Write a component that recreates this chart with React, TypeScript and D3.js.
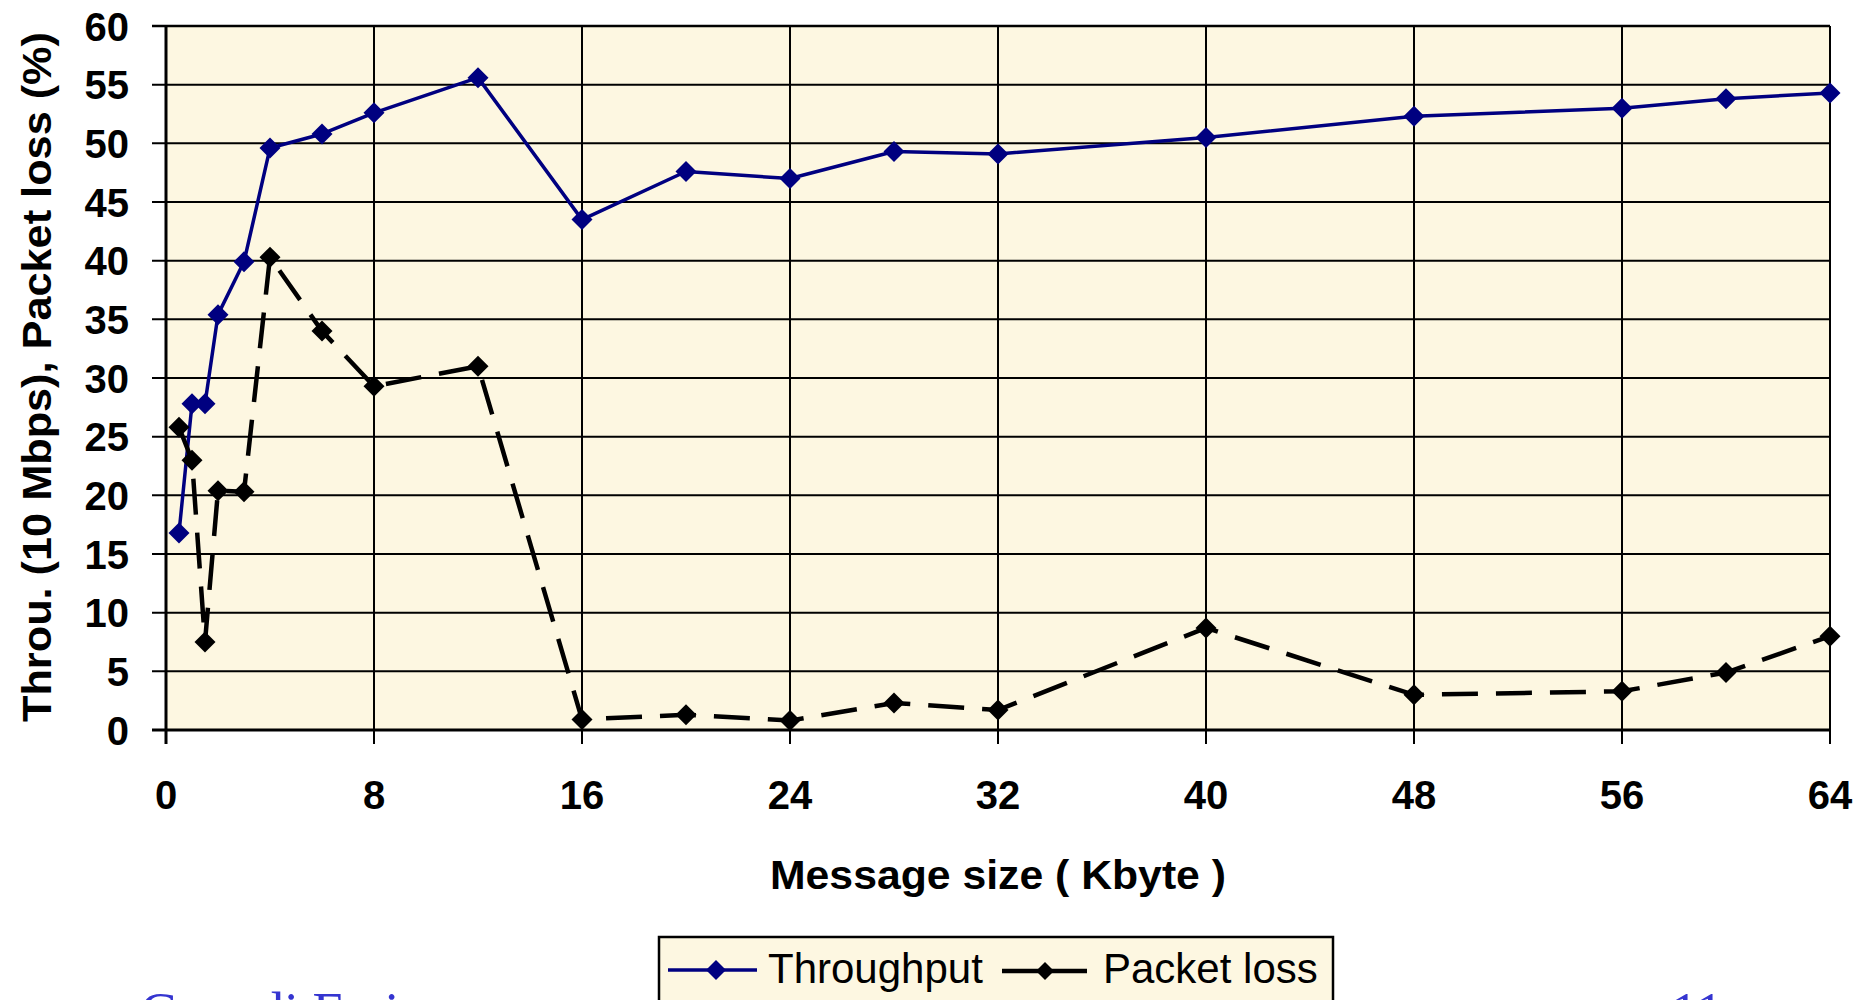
import React from 'react';
import * as d3 from 'd3';

const messageSizes = [0.5, 1, 1.5, 2, 3, 4, 6, 8, 12, 16, 20, 24, 28, 32, 40, 48, 56, 60, 64];
const throughput = [16.8, 27.8, 27.8, 35.4, 39.9, 49.6, 50.8, 52.6, 55.6, 43.5, 47.6, 47.0, 49.3, 49.1, 50.5, 52.3, 53.0, 53.8, 54.3];
const packetLoss = [25.8, 23.0, 7.5, 20.4, 20.3, 40.3, 34.0, 29.3, 31.0, 0.9, 1.3, 0.8, 2.3, 1.7, 8.7, 3.0, 3.3, 4.9, 8.0];
const xTicks = [0, 8, 16, 24, 32, 40, 48, 56, 64];
const yTicks = [0, 5, 10, 15, 20, 25, 30, 35, 40, 45, 50, 55, 60];
const seriesNames = ['Throughput', 'Packet loss'];
const xTitle = 'Message size ( Kbyte )';
const yTitle = 'Throu. (10 Mbps), Packet loss (%)';
const footerLeft = 'Gunadi Farin';
const footerRight = '11';

const W = 1872;
const H = 1000;
const L = 166, R = 1830, T = 26, B = 730;
const BG = '#FDF7E1';
const NAVY = '#000080';
const SANS = '"Liberation Sans", Arial, sans-serif';

const diamond = (r: number) => `M0,${-r}L${r},0L0,${r}L${-r},0Z`;

export default function App() {
  const x = d3.scaleLinear().domain([0, 64]).range([L, R]);
  const y = d3.scaleLinear().domain([0, 60]).range([B, T]);
  const tpData = messageSizes.map((m, i) => [m, throughput[i]] as [number, number]);
  const plData = messageSizes.map((m, i) => [m, packetLoss[i]] as [number, number]);
  const line = d3.line<[number, number]>().x(d => x(d[0])).y(d => y(d[1]));

  return (
    <svg width={W} height={H} style={{ position: 'absolute', left: 0, top: 0, background: '#fff' }}>
      <rect x={L} y={T} width={R - L} height={B - T} fill={BG} />
      {yTicks.map(t => (
        <g key={'y' + t}>
          <line x1={L - 14} x2={R} y1={y(t)} y2={y(t)} stroke="#000" strokeWidth={2} />
          <text x={129} y={y(t) + 14.5} textAnchor="end" fontFamily={SANS} fontWeight="bold" fontSize={40}>{t}</text>
        </g>
      ))}
      {xTicks.map(t => (
        <g key={'x' + t}>
          <line x1={x(t)} x2={x(t)} y1={T} y2={B + 14} stroke="#000" strokeWidth={2} />
          <text x={x(t)} y={809} textAnchor="middle" fontFamily={SANS} fontWeight="bold" fontSize={40}>{t}</text>
        </g>
      ))}
      <line x1={L} x2={L} y1={T} y2={B + 14} stroke="#000" strokeWidth={3} />
      <line x1={L - 14} x2={R} y1={B} y2={B} stroke="#000" strokeWidth={3} />
      <line x1={L - 14} x2={R} y1={T} y2={T} stroke="#000" strokeWidth={2.5} />

      <path d={line(tpData) || ''} fill="none" stroke={NAVY} strokeWidth={3.5} strokeLinejoin="round" />
      {tpData.map((d, i) => (
        <path key={'tp' + i} d={diamond(10.5)} transform={`translate(${x(d[0])},${y(d[1])})`} fill={NAVY} />
      ))}
      <path d={line(plData) || ''} fill="none" stroke="#000" strokeWidth={4.5} strokeDasharray="36 18" />
      {plData.map((d, i) => (
        <path key={'pl' + i} d={diamond(10.5)} transform={`translate(${x(d[0])},${y(d[1])})`} fill="#000" />
      ))}

      <text x={(L + R) / 2} y={889} textAnchor="middle" fontFamily={SANS} fontWeight="bold" fontSize={40}
        textLength={456} lengthAdjust="spacingAndGlyphs">{xTitle}</text>
      <text transform={`translate(51,377) rotate(-90)`} textAnchor="middle" fontFamily={SANS} fontWeight="bold" fontSize={40}
        textLength={690} lengthAdjust="spacingAndGlyphs">{yTitle}</text>

      <rect x={659} y={937} width={674} height={100} fill={BG} stroke="#000" strokeWidth={2.5} />
      <line x1={668} x2={757} y1={970} y2={970} stroke={NAVY} strokeWidth={3.5} />
      <path d={diamond(10)} transform="translate(716,970)" fill={NAVY} />
      <text x={768} y={983} fontFamily={SANS} fontSize={42}>{seriesNames[0]}</text>
      <line x1={1002} x2={1087} y1={971} y2={971} stroke="#000" strokeWidth={4.5} />
      <path d={diamond(9)} transform="translate(1045,971)" fill="#000" />
      <text x={1103} y={983} fontFamily={SANS} fontSize={42}>{seriesNames[1]}</text>

      <text x={140} y={1030} fontFamily='"Liberation Serif", "Times New Roman", serif' fontSize={54} fill="#3535D0">{footerLeft}</text>
      <text x={1671} y={1030} fontFamily='"Liberation Serif", "Times New Roman", serif' fontSize={54} fill="#3535D0">{footerRight}</text>
    </svg>
  );
}
